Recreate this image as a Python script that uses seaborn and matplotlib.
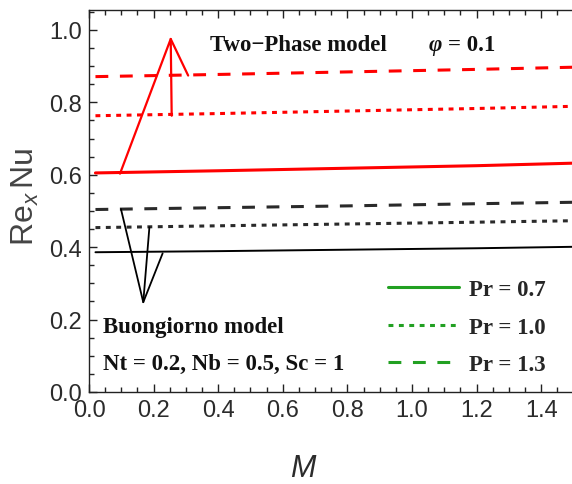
import numpy as np
import pandas as pd
import matplotlib
matplotlib.use("Agg")
import matplotlib.pyplot as plt
import seaborn as sns
from matplotlib.lines import Line2D
from matplotlib.ticker import MultipleLocator, FormatStrFormatter

m_vals = [0.02, 0.4, 0.8, 1.2, 1.5]

# Two-Phase model (red)
tp_pr07 = [0.605, 0.611, 0.618, 0.625, 0.632]
tp_pr10 = [0.763, 0.769, 0.776, 0.783, 0.789]
tp_pr13 = [0.871, 0.877, 0.884, 0.891, 0.897]

# Buongiorno model (black)
bg_pr07 = [0.386, 0.389, 0.393, 0.397, 0.401]
bg_pr10 = [0.454, 0.459, 0.464, 0.469, 0.473]
bg_pr13 = [0.504, 0.509, 0.514, 0.520, 0.524]

pr_labels = ["Pr = 0.7", "Pr = 1.0", "Pr = 1.3"]

# annotation pointers (M, ReNu)
tp_pointer_x = [0.096, 0.253, 0.256]
tp_pointer_y = [0.603, 0.975, 0.763]
tp_branch_x = [0.253, 0.307]
tp_branch_y = [0.975, 0.874]
bg_pointer_x = [0.099, 0.168, 0.228]
bg_pointer_y = [0.505, 0.248, 0.383]
bg_branch_x = [0.187, 0.168]
bg_branch_y = [0.455, 0.248]

sns.set_style("ticks")
plt.rcParams["font.family"] = ["Liberation Sans", "DejaVu Sans"]
plt.rcParams["mathtext.fontset"] = "custom"
plt.rcParams["mathtext.rm"] = "Liberation Sans"
plt.rcParams["mathtext.it"] = "Liberation Sans:italic"

styles = {
    "Pr = 0.7": "-",
    "Pr = 1.0": (0, (1.6, 1.8)),
    "Pr = 1.3": (0, (4.2, 3.8)),
}

rows = []
for model, series in [("Two-Phase", [tp_pr07, tp_pr10, tp_pr13]),
                      ("Buongiorno", [bg_pr07, bg_pr10, bg_pr13])]:
    for pr, vals in zip(pr_labels, series):
        for m, v in zip(m_vals, vals):
            rows.append({"model": model, "Pr": pr, "M": m, "ReNu": v})
df = pd.DataFrame(rows)

fig = plt.figure(figsize=(5.72, 4.85), dpi=100)
ax = fig.add_axes([89 / 572, 1 - 393 / 485, (573.5 - 89) / 572, (393 - 11) / 485])

colors = {"Two-Phase": "#ff0000", "Buongiorno": "#000000"}
widths = {("Two-Phase", "Pr = 0.7"): 2.2, ("Buongiorno", "Pr = 0.7"): 1.4}
for (model, pr), grp in df.groupby(["model", "Pr"]):
    c = colors[model]
    if model == "Buongiorno" and pr != "Pr = 0.7":
        c = "#2a2a2a"
    sns.lineplot(data=grp, x="M", y="ReNu", ax=ax, color=c,
                 lw=widths.get((model, pr), 2.2), linestyle=styles[pr],
                 legend=False)

ax.plot(tp_pointer_x, tp_pointer_y, color="#ff0000", lw=1.6)
ax.plot(tp_branch_x, tp_branch_y, color="#ff0000", lw=1.6)
ax.plot(bg_pointer_x, bg_pointer_y, color="#000000", lw=1.3)
ax.plot(bg_branch_x, bg_branch_y, color="#000000", lw=1.3)

ax.set_xlim(0, 1.5)
ax.set_ylim(0, 1.055)
ax.xaxis.set_major_locator(MultipleLocator(0.2))
ax.xaxis.set_minor_locator(MultipleLocator(0.05))
ax.yaxis.set_major_locator(MultipleLocator(0.2))
ax.yaxis.set_minor_locator(MultipleLocator(0.05))
ax.xaxis.set_major_formatter(FormatStrFormatter("%.1f"))
ax.yaxis.set_major_formatter(FormatStrFormatter("%.1f"))
ax.tick_params(which="both", direction="in", top=True, right=False,
               colors="#222222", labelcolor="#2b2b2b", labelsize=17, width=1)
ax.tick_params(which="major", length=6, pad=5)
ax.tick_params(which="minor", length=3.5)
ax.spines["right"].set_visible(False)
for s in ["left", "bottom", "top"]:
    ax.spines[s].set_color("#222222")
    ax.spines[s].set_linewidth(1)

ax.set_xlabel("M", fontsize=22, style="italic", color="#2b2b2b")
ax.xaxis.set_label_coords((303 - 89) / (573.5 - 89), -0.16)
ax.set_ylabel(r"Re$_{\mathit{x}}$$\,$Nu", fontsize=23, color="#444444")
ax.yaxis.set_label_coords(-0.1, 0.515)

serif = dict(family="Liberation Serif", weight="bold", fontsize=16.5, color="#111111")
ax.text(0.375, 0.944, "Two\u2212Phase model", **serif)
ax.text(1.05, 0.944, "\u03c6", style="italic", **serif)
ax.text(1.112, 0.944, "= 0.1", **serif)
ax.text(0.043, 0.166, "Buongiorno model", **serif)
ax.text(0.043, 0.064, "Nt = 0.2, Nb = 0.5, Sc = 1", **serif)

green = "#22a022"
handles = [Line2D([], [], color=green, lw=2.2, linestyle=styles[p]) for p in pr_labels]
leg = ax.legend(handles, pr_labels, loc="upper left",
                bbox_to_anchor=(388 / 572, 1 - 280 / 485),
                bbox_transform=fig.transFigure, frameon=False,
                prop=dict(family="Liberation Serif", weight="bold", size=16.5),
                handlelength=3.1, handletextpad=0.45, labelspacing=0.72,
                borderpad=0, borderaxespad=0)

fig.savefig("out.png", dpi=100)
